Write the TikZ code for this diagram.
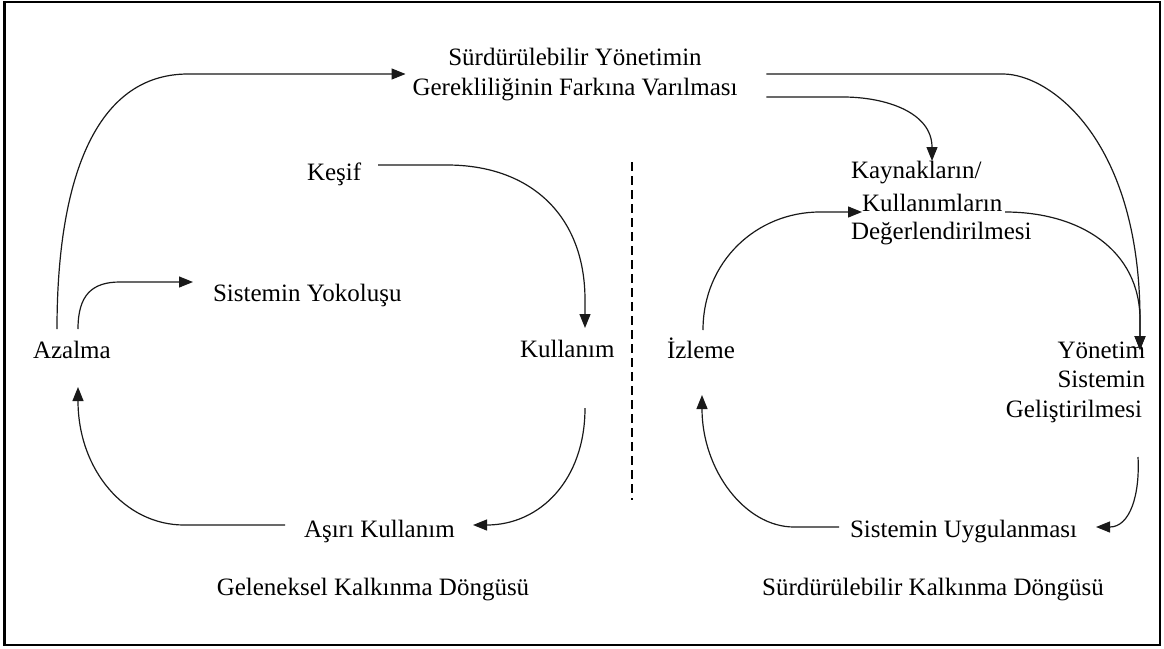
\documentclass[tikz,border=0pt]{standalone}
\usepackage{fontspec}
\setmainfont{Liberation Serif}
\usetikzlibrary{arrows.meta,calc}
\begin{document}
\begin{tikzpicture}[x=1pt,y=-1pt,
  lbl/.style={font=\fontsize{25}{30}\selectfont, inner sep=0pt, outer sep=0pt, text=black},
  conn/.style={line width=1.2pt, draw=black!90},
  arr/.style={conn, -{Triangle[length=14pt,width=11pt]}},
  outerbox/.style={line width=2.2pt},
  divider/.style={line width=1.2pt, dash pattern=on 9pt off 5pt}]
\useasboundingbox (0,0) rectangle (1164,648);
\draw[outerbox] (4.5,2) rectangle (1160,645);

% nodes (multi-line nodes: base = last line's baseline)
\node[lbl, anchor=base, align=center, font=\fontsize{25}{30}\selectfont] (title) at (575,95) {Sürdürülebilir Yönetimin\\Gerekliliğinin Farkına Varılması};
\node[lbl, anchor=base west] (kesif) at (307,180) {Keşif};
\node[lbl, anchor=base west] (yok) at (213,301) {Sistemin Yokoluşu};
\node[lbl, anchor=base west] (azalma) at (33,358) {Azalma};
\node[lbl, anchor=base west] (kullanim) at (520,357) {Kullanım};
\node[lbl, anchor=base west] (asiri) at (304,537) {Aşırı Kullanım};
\node[lbl, anchor=base] (gel) at (373,595) {Geleneksel Kalkınma Döngüsü};
\node[lbl, anchor=base west, align=left, font=\fontsize{25}{28}\selectfont] (kay) at (851,239) {Kaynakların/\\[5pt]\hspace*{11pt}Kullanımların\\Değerlendirilmesi};
\node[lbl, anchor=base west] (izleme) at (667,358) {İzleme};
\node[lbl, anchor=base east, align=right, font=\fontsize{25}{29.5}\selectfont] (yonetim) at (1145,417) {Yönetim\\Sistemin\hspace*{14pt}\\Geliştirilmesi\hspace*{3pt}};
\node[lbl, anchor=base west] (uyg) at (850,537) {Sistemin Uygulanması};
\node[lbl, anchor=base] (sur) at (933,595) {Sürdürülebilir Kalkınma Döngüsü};
\coordinate (d1) at (632,162);
\coordinate (d2) at (632,500);

% divider
\draw[divider] (d1) -- (d2);

% traditional cycle
\draw[arr] ($(azalma.base west)+(24,-29)$) .. controls (57,180) and (95,74) .. (188,74) -- ($(title.base west)+(-7,-21)$);
\draw[arr] ($(azalma.base west)+(45,-29)$) .. controls (78,295) and (92,282) .. (120,282) -- ($(yok.base west)+(-20,-19)$);
\draw[arr] ($(kesif.base west)+(71,-15)$) -- (447,165) .. controls (530,165) and (585,215) .. (585,300) -- ($(kullanim.base west)+(65,-29)$);
\draw[arr] ($(kullanim.base west)+(65,51)$) .. controls (585,480) and (540,525) .. ($(asiri.base west)+(169,-12)$);
\draw[arr] ($(asiri.base west)+(-19,-12)$) -- (184,525) .. controls (125,525) and (78,470) .. ($(azalma.base west)+(45,29)$);

% sustainable cycle
\draw[arr] ($(title.base east)+(29,2)$) -- (843,97) .. controls (885,97) and (932,112) .. ($(kay.base west)+(81,-78)$);
\draw[arr] ($(title.base east)+(29,-21)$) -- (1003,74) .. controls (1050,74) and (1140,140) .. (1140,320) -- ($(yonetim.base east)+(-5,-67)$);
\draw[arr] ($(izleme.base west)+(36,-28)$) .. controls (703,262) and (756,212) .. (820,212) -- ($(kay.base west)+(11,-27)$);
\draw[arr] ($(kay.base west)+(154,-27)$) .. controls (1080,212) and (1140,250) .. (1140,320) -- ($(yonetim.base east)+(-5,-67)$);
\draw[arr] ($(yonetim.base east)+(-7,40)$) .. controls (1140,495) and (1130,527) .. ($(uyg.base west)+(246,-10)$);
\draw[arr] ($(uyg.base west)+(-11,-10)$) -- (794,527) .. controls (745,527) and (702,470) .. ($(izleme.base west)+(35,37)$);
\end{tikzpicture}
\end{document}
